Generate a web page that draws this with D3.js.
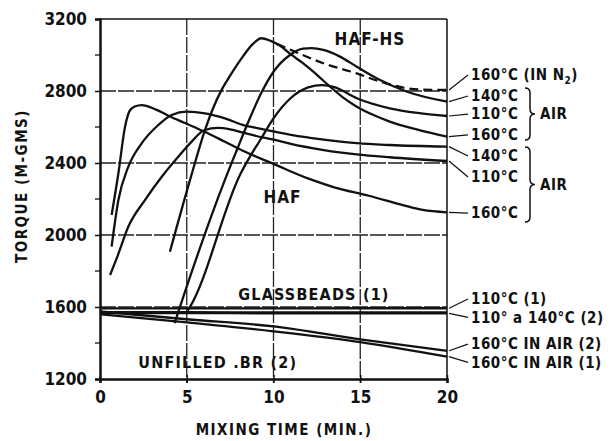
<!DOCTYPE html>
<html><head><meta charset="utf-8">
<script src="https://cdn.jsdelivr.net/npm/d3@7/dist/d3.min.js"></script>
<style>
body{margin:0;background:#fff;}
svg text{font-family:"DejaVu Sans Condensed","DejaVu Sans",sans-serif;font-weight:bold;fill:#111;}
</style></head><body>
<svg id="c" width="611" height="441"></svg>
<script>
// ---- data ----
const xTicks = [0, 5, 10, 15, 20];
const yTicks = [1200, 1600, 2000, 2400, 2800, 3200];
const yMinor = [1400, 1800, 2200, 2600, 3000];
const xGrid = [5, 10, 15];
const yGrid = [1600, 2000, 2400, 2800];

// HAF-HS (air) and HAF-HS 160 in N2
const hafHs160 = [[4.03,1907],[5.19,2306],[6.05,2583],[6.5,2700],[7.0,2805],[7.5,2885],[8.26,2995],[8.8,3060],[9.3,3093],[9.8,3080],[10.4,3050],[11.0,3003],[11.7,2955],[12.5,2890],[13.26,2824],[14.0,2765],[14.8,2713],[15.8,2665],[16.7,2630],[18.3,2585],[20,2546]];
const hafHs160N2 = [[10.2,3062],[11.3,3016],[12.87,2954],[14.8,2898],[16.14,2852],[17.0,2830],[17.7,2815],[18.5,2808],[20,2806]];
const hafHs140 = [[4.3,1510],[4.61,1601],[7.2,2306],[7.9,2475],[8.6,2640],[9.3,2790],[10.0,2907],[10.95,3000],[11.7,3035],[12.2,3038],[12.87,3028],[13.83,2991],[14.8,2935],[16.14,2861],[17.7,2796],[20,2741]];
const hafHs110 = [[5.05,1580],[5.19,1601],[8.1,2340],[8.7,2445],[9.22,2525],[10.0,2648],[10.95,2757],[12.0,2820],[12.8,2833],[13.5,2822],[14.8,2760],[16.7,2704],[18.3,2678],[20,2661]];

// HAF
const haf160 = [[0.67,2111],[1.06,2343],[1.44,2600],[1.7,2688],[2.0,2714],[2.4,2722],[3.2,2698],[4.0,2660],[4.9,2622],[6.0,2575],[7.2,2518],[8.3,2465],[10.0,2395],[12.1,2310],[13.5,2265],[15.5,2218],[17.5,2165],[18.6,2139],[20,2126]];
const haf140 = [[0.67,1935],[1.06,2194],[1.63,2379],[2.4,2509],[3.36,2611],[4.13,2667],[5.0,2685],[6.05,2676],[7.2,2648],[8.26,2611],[9.0,2595],[10.2,2572],[11.0,2556],[12.1,2540],[12.9,2530],[14.8,2510],[16.7,2500],[20,2491]];
const haf110 = [[0.58,1778],[1.0,1880],[1.63,2046],[2.59,2194],[3.56,2324],[4.51,2435],[5.3,2520],[6.0,2582],[6.8,2595],[7.5,2587],[8.3,2567],[9.0,2550],[10.2,2526],[11.0,2506],[12.9,2472],[14.8,2448],[16.7,2432],[20,2411]];

// Glass beads and unfilled BR
const glass1 = [[0,1592],[5,1592],[10,1592],[15,1593],[20,1593]];
const glass2a = [[0,1572],[5,1571],[10,1570],[15,1570],[20,1570]];
const glass2b = [[0,1566],[5,1566],[10,1565],[15,1565],[20,1565]];
const unf2 = [[0,1575],[5,1532],[10,1492],[15,1420],[20,1357]];
const unf1 = [[0,1560],[5,1515],[10,1465],[15,1405],[20,1324]];

const rightLabels = ["160°C (IN N2)","140°C","110°C","160°C","140°C","110°C","160°C","110°C (1)","110° a 140°C (2)","160°C IN AIR (2)","160°C IN AIR (1)"];
const rightLabelAt = [2889,2772,2672,2556,2439,2322,2122,1644,1542,1394,1292];

// ---- drawing ----
const svg = d3.select("#c");
const x = d3.scaleLinear().domain([0,20]).range([100,447]);
const y = d3.scaleLinear().domain([1200,3200]).range([379,19]);

// grid
svg.append("g").selectAll("line").data(xGrid).join("line")
  .attr("x1",d=>x(d)).attr("x2",d=>x(d)).attr("y1",y(3200)).attr("y2",y(1200)+4)
  .attr("stroke","#222").attr("stroke-width",1.3).attr("stroke-dasharray","16,2");
svg.append("g").selectAll("line").data(yGrid).join("line")
  .attr("x1",x(0)).attr("x2",x(20)).attr("y1",d=>y(d)).attr("y2",d=>y(d))
  .attr("stroke","#222").attr("stroke-width",1.3).attr("stroke-dasharray","16,2");

// frame
svg.append("line").attr("x1",x(0)).attr("x2",x(20)).attr("y1",y(3200)).attr("y2",y(3200)).attr("stroke","#111").attr("stroke-width",1.5);
svg.append("line").attr("x1",x(20)).attr("x2",x(20)).attr("y1",y(3200)).attr("y2",y(1200)).attr("stroke","#111").attr("stroke-width",1.5);

// axes
const yAxis = d3.axisLeft(y).tickValues(yTicks).tickSize(5).tickPadding(8).tickFormat(d3.format("d"));
const gy = svg.append("g").attr("transform",`translate(${x(0)},0)`).call(yAxis);
gy.select(".domain").attr("stroke","#111").attr("stroke-width",2.5);
gy.selectAll(".tick line").attr("stroke","#111").attr("stroke-width",1.5);
gy.selectAll("text").style("font-size","17px");
svg.append("g").selectAll("line").data(yMinor).join("line")
  .attr("x1",x(0)-5).attr("x2",x(0)).attr("y1",d=>y(d)).attr("y2",d=>y(d)).attr("stroke","#111").attr("stroke-width",1.3);

const xAxis = d3.axisBottom(x).tickValues(xTicks).tickSize(4).tickPadding(8).tickFormat(d3.format("d"));
const gx = svg.append("g").attr("transform",`translate(0,${y(1200)})`).call(xAxis);
gx.select(".domain").attr("stroke","#111").attr("stroke-width",2.5);
gx.selectAll(".tick line").attr("stroke","#111").attr("stroke-width",1.5).attr("y1",-4);
gx.selectAll("text").style("font-size","17px");

svg.append("text").attr("x",284).attr("y",435).attr("text-anchor","middle")
  .style("font-size","15px").style("letter-spacing","1.5px").text("MIXING TIME (MIN.)");
svg.append("text").attr("transform","translate(27,186) rotate(-90)").attr("text-anchor","middle")
  .style("font-size","15px").style("letter-spacing","1.5px").text("TORQUE (M-GMS)");

// curves
const line = d3.line().x(d=>x(d[0])).y(d=>y(d[1])).curve(d3.curveMonotoneX);
const solid = [hafHs160,hafHs140,hafHs110,haf160,haf140,haf110,glass1,glass2a,glass2b,unf2,unf1];
svg.append("g").selectAll("path").data(solid).join("path")
  .attr("d",line).attr("fill","none").attr("stroke","#111").attr("stroke-width",2.3).attr("stroke-linejoin","round");
svg.append("path").datum(hafHs160N2).attr("d",line).attr("fill","none")
  .attr("stroke","#111").attr("stroke-width",2.3).attr("stroke-dasharray","9,5");

// annotations
svg.append("text").attr("x",x(15.56)).attr("y",y(3056)).attr("text-anchor","middle").style("font-size","17px").style("letter-spacing","1px").text("HAF-HS");
svg.append("text").attr("x",x(10.52)).attr("y",y(2178)).attr("text-anchor","middle").style("font-size","17px").style("letter-spacing","1px").text("HAF");
svg.append("text").attr("x",x(7.97)).attr("y",y(1639)).style("font-size","16px").style("letter-spacing","1.2px").text("GLASSBEADS (1)");
svg.append("text").attr("x",x(2.21)).attr("y",y(1261)).style("font-size","16px").style("letter-spacing","1.2px").text("UNFILLED .BR (2)");

// right labels with leaders
const labelSeries = [hafHs160N2,hafHs140,hafHs110,hafHs160,haf140,haf110,haf160,glass1,glass2b,unf2,unf1];
const lg = svg.append("g");
rightLabels.forEach((t,i)=>{
  const ye = y(labelSeries[i][labelSeries[i].length-1][1]);
  const yl = y(rightLabelAt[i]);
  lg.append("line").attr("x1",x(20)+2).attr("y1",ye).attr("x2",x(20)+21).attr("y2",yl)
    .attr("stroke","#111").attr("stroke-width",1.2);
  const tx = lg.append("text").attr("x",x(20)+24).attr("y",yl).attr("dy","0.36em")
    .style("font-size","15px").style("letter-spacing","0.5px");
  if (t.endsWith("N2)")) {
    tx.append("tspan").text("160°C (IN N");
    tx.append("tspan").attr("dy","4").style("font-size","10px").text("2");
    tx.append("tspan").attr("dy","-4").text(")");
  } else tx.text(t);
});

// braces
function brace(top, bot, xl) {
  const yt = y(top), yb = y(bot), ym = (yt+yb)/2, xm = xl+5, xt = xl+10;
  return `M${xl},${yt} Q${xm},${yt} ${xm},${yt+5} L${xm},${ym-5} Q${xm},${ym} ${xt},${ym} Q${xm},${ym} ${xm},${ym+5} L${xm},${yb-5} Q${xm},${yb} ${xl},${yb}`;
}
const braceTops = [2817, 2489];
const braceBots = [2528, 2072];
braceTops.forEach((bt,i)=>{
  svg.append("path").attr("d",brace(bt,braceBots[i],525)).attr("fill","none").attr("stroke","#111").attr("stroke-width",1.5);
  svg.append("text").attr("x",540).attr("y",(y(bt)+y(braceBots[i]))/2).attr("dy","0.36em")
    .style("font-size","15px").style("letter-spacing","0.5px").text("AIR");
});
</script></body></html>
